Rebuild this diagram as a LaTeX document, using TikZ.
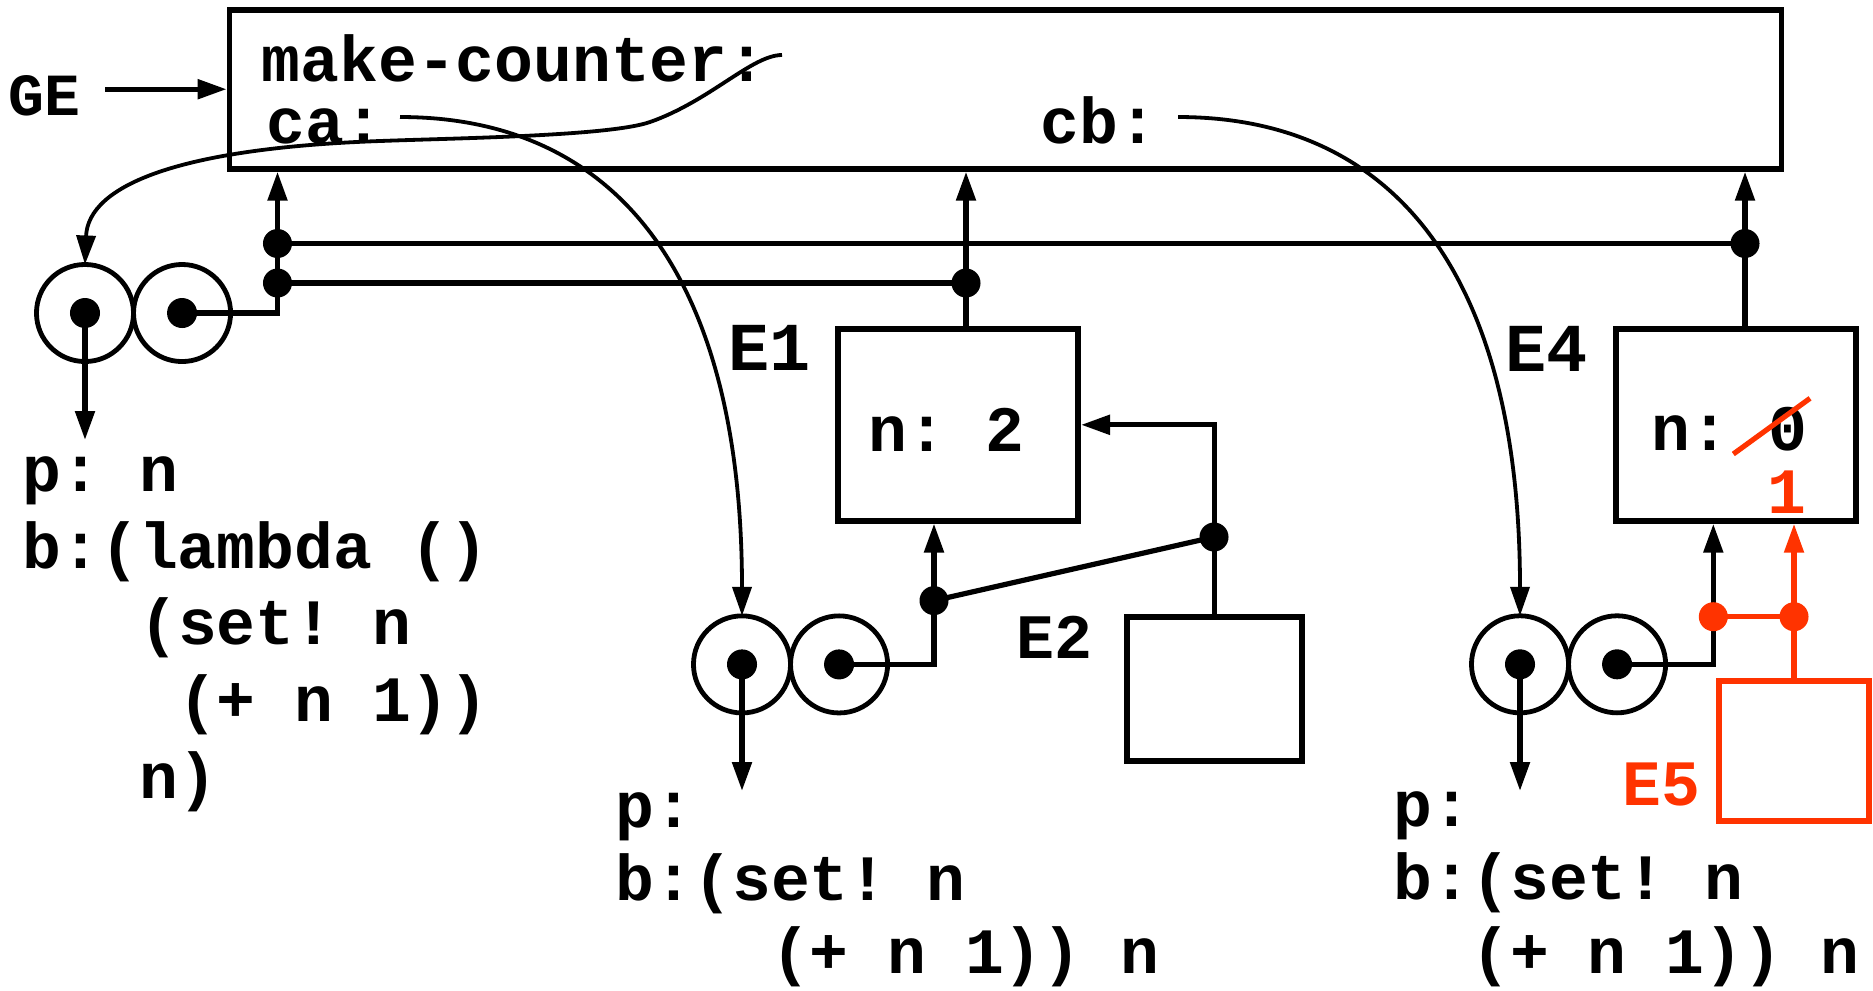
\documentclass[tikz,border=0pt]{standalone}
\usepackage{fontspec}
\setmonofont{Liberation Mono}
\usepackage{xcolor}
\usepackage{tikz}
\usetikzlibrary{arrows.meta, positioning}
\definecolor{newred}{RGB}{255,51,0}
\newcommand\codefont[1]{\fontsize{18.4}{#1}\selectfont\ttfamily\bfseries\lineskiplimit=-20pt}
\newcommand\lblfont[1]{\fontsize{#1}{#1}\selectfont\ttfamily\bfseries}

\begin{document}
\begin{tikzpicture}[
  x=0.01cm, y=-0.01cm,
  frame/.style={draw, line width=0.058cm, inner sep=0pt},
  redframe/.style={frame, draw=newred},
  cell/.style={circle, draw, line width=0.048cm, minimum size=0.97cm,
               inner sep=0pt, outer sep=0pt},
  ptr/.style={circle, fill, minimum size=0.30cm, inner sep=0pt},
  jdot/.style={circle, fill=#1, minimum size=0.29cm, inner sep=0pt},
  jdot/.default=black,
  code/.style={anchor=base west, inner sep=0pt, align=left, font=\codefont{21.8pt}},
  lbl/.style={anchor=base west, inner sep=0pt},
  wire/.style={line width=0.052cm},
  arr/.style={wire, -{Triangle[length=0.29cm, width=0.19cm]}},
  curve/.style={arr, line width=0.038cm},
  redwire/.style={wire, draw=newred},
  redarr/.style={arr, newred}
]
  \useasboundingbox (0,0) rectangle (1873,990);

  % global environment
  \node[frame, minimum width=15.51cm, minimum height=1.59cm] (ge) at (1005.5,89.2) {};
  \node[code] (mctxt) at (261,81.7) {make-counter:};
  \node[code] (catxt) at (266,143.3) {ca:};
  \node[code] (cbtxt) at (1040,143.3) {cb:};
  \node[lbl, font=\lblfont{17}] (gelbl) at (8,115) {GE};

  % frames
  \node[frame, minimum width=2.4cm, minimum height=1.915cm] (e1) at (958,424.8) {};
  \node[frame, minimum width=2.4cm, minimum height=1.917cm] (e4) at (1735.7,424.9) {};
  \node[frame, minimum width=1.75cm, minimum height=1.44cm] (e2) at (1214.2,688.7) {};
  \node[redframe, minimum width=1.5cm, minimum height=1.4cm] (e5) at (1794,750.7) {};

  \node[code] (n2) at (868,451.8) {n: 2};
  \node[code] (n0) at (1651,450) {n: 0};
  \node[code, anchor=base, text=newred] (n1) at (1787,513.3) {1};

  \node[lbl, font=\lblfont{19.5}] (e1lbl) at (728,370.4) {E1};
  \node[lbl, font=\lblfont{18}] (e2lbl) at (1016,658.7) {E2};
  \node[lbl, font=\lblfont{19.5}] (e4lbl) at (1505,371.7) {E4};
  \node[lbl, font=\lblfont{18.4}, text=newred] (e5lbl) at (1622,805) {E5};

  % procedure objects
  \foreach \name/\x/\y in {mc/85/313, ca/742/664.4, cb/1520/664.3} {
    \node[cell] (\name L) at (\x,\y) {};
    \node[cell, right=0pt of \name L] (\name R) {};
    \node[ptr] at (\name L) {};
    \node[ptr] at (\name R) {};
  }

  % bodies (anchored on the last line)
  \node[code, font=\codefont{21.8pt}] (mcbody) at (22,798)
    {p: n\\b:(lambda ()\\\ \ \ (set! n\\\ \ \ \ (+ n 1))\\\ \ \ n)};
  \node[code, font=\codefont{20.8pt}] (cabody) at (615,973.4)
    {p:\\b:(set! n\\\ \ \ \ (+ n 1)) n};
  \node[code, font=\codefont{20.8pt}] (cbbody) at (1393,973)
    {p:\\b:(set! n\\\ \ (+ n 1)) n};

  % junctions and free ends
  \coordinate (ja) at (277.5,283);
  \coordinate (jb) at (277.5,243.5);
  \coordinate (jc) at (966,283);
  \coordinate (jd) at (1745,243.5);
  \coordinate (je) at (1214,537);
  \coordinate (jf) at (934,600.6);
  \coordinate (jg) at (1713.3,616.7);
  \coordinate (jh) at (e5.north |- jg);
  \coordinate (gearr) at (105,89.2);
  \coordinate (mcptr) at (782,55);
  \coordinate (captr) at (400,117);
  \coordinate (cbptr) at (1178,117);
  \coordinate (mcend) at (85,440);
  \coordinate (caend) at (742,791);
  \coordinate (cbend) at (1520,791);

  \draw[arr] (gearr) -- (ge.west);
  \draw[arr] (mcR.center) -| (ja |- ge.south);
  \draw[wire] (jb) -- (jd);
  \draw[wire] (ja) -- (jc);
  \draw[arr] (e1.north -| jc) -- (ge.south -| jc);
  \draw[arr] (e4.north -| jd) -- (ge.south -| jd);
  \draw[arr] (e2.north) |- (e1.east);
  \draw[wire] (jf) -- (je);
  \draw[arr] (caR.center) -| (e1.south -| jf);
  \draw[arr] (cbR.center) -| (e4.south -| jg);
  \draw[redarr] (e5.north) -- (e4.south -| e5.north);
  \draw[redwire] (jg) -- (jh);
  \draw[arr] (mcL.center) -- (mcend);
  \draw[arr] (caL.center) -- (caend);
  \draw[arr] (cbL.center) -- (cbend);

  % bindings
  \draw[curve] (mcptr) .. controls (752,55) and (710,101) .. (650,122)
    .. controls (610,136) and (460,138) .. (380,141)
    .. controls (180,148) and (88,185) .. (mcL.north);
  \draw[curve] (captr) .. controls +(220,0) and +(0,-336) .. (caL.north);
  \draw[curve] (cbptr) .. controls +(220,0) and +(0,-336) .. (cbL.north);

  \foreach \j in {ja,jb,jc,jd,je,jf} \node[jdot] at (\j) {};
  \foreach \j in {jg,jh} \node[jdot=newred] at (\j) {};

  % n changed from 0 to 1
  \draw[redwire] (1733.3,454) -- (1810,398.3);
\end{tikzpicture}
\end{document}
